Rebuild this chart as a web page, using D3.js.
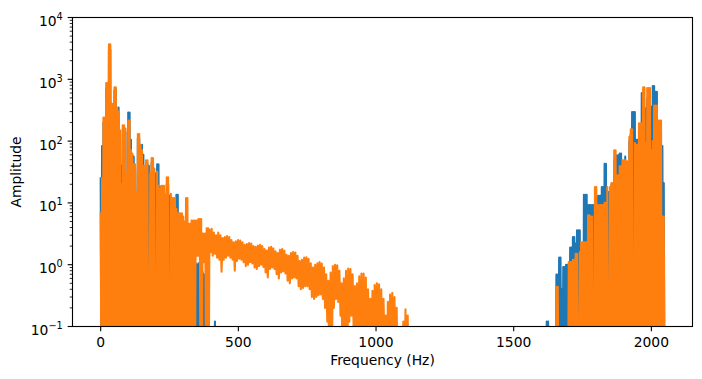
<!DOCTYPE html>
<html><head><meta charset="utf-8">
<script src="https://cdn.jsdelivr.net/npm/d3@7"></script>
<style>
body{margin:0;background:#fff}
svg{display:block}
text{font-family:"DejaVu Sans",sans-serif;fill:#000}
</style>
</head><body>
<svg id="chart" width="702" height="379"></svg>
<script>
// ---------------- data ----------------
const X_TICKS = [0, 500, 1000, 1500, 2000];
const Y_EXPONENTS = [-1, 0, 1, 2, 3, 4];
const X_LABEL = "Frequency (Hz)";
const Y_LABEL = "Amplitude";
const BELOW = 0.01; // value under the axis floor (drawn off-chart)

// Each spectrum piece: start frequency, bin step, peak values (hi) and trough values (lo)
// blue series
const blueLowStart = 0, blueLowStep = 5;
const blueLowHi = [26,83,200,230,700,800,3000,3000,350,380,
  650,700,330,350,140,40,150,160,140,25,
  290,290,105,59,56,35,12,110,110,75,
  87,60,35,40,42,40,25,45,45,30,
  30,42,42,18,18,15,15,11,20,20,
  13,11,10,9,10,13.5,13.5,5,4,3,
  2,0.11,2,1.5,1.2,1,0.8,0.6,0.9,1.05,
  1.0,1.05,0.5,0.4,0.76,0.7,0.3,0.05,0.05,0.05,
  0.05,0.05,0.05,0.12,0.05];
const blueHighStart = 1615, blueHighStep = 5;
const blueHighHi = [0.05,0.12,0.12,0.05,0.05,0.05,0.05,
  0.05,0.69,0.69,1.3,1.3,0.4,0.92,0.92,1.0,1.0,
  0.5,1.9,1.9,2.8,2.8,2.2,3.6,3.6,3.6,1.5,
  1.5,13.5,13.5,13.5,9.2,9.2,9.2,9.2,9.2,8,
  8,13,13,13,18,18,43,43,15,15,
  15,20,20,50,50,59,59,63,63,40,
  40,56,40,40,100,130,295,295,295,105,
  105,150,150,600,600,340,340,490,490,360,
  360,780,780,630,630,180,180,150,83,21];

// orange series
const orangeLowStart = 0, orangeLowStep = 5;
const orangeLowHi = [7,25,240,240,870,870,3700,3700,400,400,
  740,740,350,300,150,20,180,180,160,30,
  215,215,72,63,42,42,15,130,130,87,
  72,40,40,49,49,0.01,30,53,53,36,
  0.01,32,19,17,19,19,19,13.5,26,26,
  0.01,14,12,12,12,8,6.8,6.8,6.8,6.8,
  6,5,12,12,4.6,4.6,5.2,5.2,5.2,5.2,
  5.2,5.5,5.5,5.5,3.2,3.2,3.2,3.9,3.9];
const orangeLowLo = [0.01,0.01,0.01,0.01,0.01,0.01,0.01,0.01,0.01,0.01,
  0.01,0.01,0.01,0.01,0.01,0.01,0.01,0.01,0.01,0.01,
  0.01,0.01,0.01,0.01,0.01,0.01,0.01,0.01,0.01,0.01,
  0.01,0.01,0.01,0.01,0.01,0.01,0.01,0.01,0.01,0.01,
  0.01,0.01,0.01,0.01,0.01,0.01,0.01,0.01,0.01,0.01,
  0.01,0.01,0.01,0.01,0.01,0.01,0.01,0.01,0.01,0.01,
  0.01,0.01,0.01,0.01,0.01,0.01,0.01,0.01,0.01,1.4,
  1.4,1.4,0.01,0.01,1.1,1.1,0.01,0.01,0.01];
const orangeMidStart = 395, orangeMidStep = 8;
const orangeMidHi = [3.7,3.8,3.3,3.0,3.3,3.0,2.7,2.8,2.9,2.8,
  2.5,2.3,2.4,2.5,2.45,2.3,2.1,2.15,2.25,2.2,
  2.0,1.95,2.05,2.1,2.0,1.8,1.7,1.9,1.95,1.85,
  1.65,1.55,1.75,1.8,1.7,1.45,1.4,1.55,1.6,1.57,
  1.4,1.15,1.2,1.3,1.32,1.25,1.05,0.9,1.0,1.05,
  1.1,1.04,0.9,0.7,0.55,0.75,0.95,1.0,0.98,0.8,
  0.5,0.6,0.8,0.87,0.85,0.7,0.45,0.5,0.65,0.72,
  0.72,0.62,0.4,0.28,0.38,0.47,0.5,0.48,0.4,0.28,
  0.15,0.25,0.33,0.35,0.3,0.2,0.08,0.05,0.12,0.19,
  0.15,0.05];
const orangeMidLo = [1.6,1.4,1.5,1.3,1.2,0.77,1.2,1.3,1.4,1.3,
  1.2,0.8,1.15,1.25,1.2,1.1,0.95,1.0,1.1,1.05,
  0.9,0.85,0.95,1.0,0.92,0.75,0.62,0.85,0.9,0.85,
  0.7,0.6,0.75,0.78,0.72,0.55,0.5,0.6,0.62,0.6,
  0.45,0.4,0.42,0.45,0.45,0.4,0.3,0.28,0.3,0.32,
  0.33,0.28,0.2,0.12,0.01,0.01,0.2,0.28,0.25,0.15,
  0.01,0.01,0.01,0.12,0.15,0.08,0.01,0.01,0.01,0.01,
  0.01,0.01,0.05,0.01,0.01,0.01,0.01,0.01,0.01,0.05,
  0.01,0.01,0.01,0.01,0.01,0.01,0.01,0.01,0.01,0.01,
  0.01,0.01];
const orangeHighStart = 1650, orangeHighStep = 5;
const orangeHighHi = [0.05,0.44,0.44,0.05,0.05,0.05,0.05,0.05,0.05,0.05,
  1.1,1.1,1.1,1.2,1.2,1.5,1.5,0.01,1.6,2.3,
  2.3,2.3,2.3,2.3,6.3,6.3,6,6,0.01,18,
  18,9.2,9.2,9.2,9.2,9.2,10,10,18,0.01,
  18,21,21,71,71,28,28,39,39,49,
  49,49,47,47,117,155,155,0.01,93,87,
  87,195,195,195,740,740,93,720,720,720,
  71,100,375,375,375,215,215,215,6,6];

// ---------------- chart ----------------
const M_LEFT = 72.5, M_RIGHT = 692.5, M_TOP = 17.5, M_BOTTOM = 326.5;
const PT = 100 / 72;
const COLORS = {blue: "#1f77b4", orange: "#ff7f0e"};

const xScale = d3.scaleLinear().domain([-102.35, 2149.35]).range([M_LEFT, M_RIGHT]);
const yScale = d3.scaleLog().domain([0.1, 1e4]).range([M_BOTTOM, M_TOP]);

const svg = d3.select("#chart");

svg.append("defs").append("clipPath").attr("id", "plotclip")
  .append("rect").attr("x", M_LEFT).attr("y", M_TOP)
  .attr("width", M_RIGHT - M_LEFT).attr("height", M_BOTTOM - M_TOP);

function zigzag(start, step, hi, lo) {
  const pts = [];
  hi.forEach((v, i) => {
    const f = start + i * step;
    pts.push([f, v]);
    pts.push([f + step / 2, Array.isArray(lo) ? lo[i] : lo]);
  });
  return pts;
}

const blueData = [
  ...zigzag(blueLowStart, blueLowStep, blueLowHi, BELOW),
  ...zigzag(blueHighStart, blueHighStep, blueHighHi, BELOW)
];
const orangeData = [
  ...zigzag(orangeLowStart, orangeLowStep, orangeLowHi, orangeLowLo),
  ...zigzag(orangeMidStart, orangeMidStep, orangeMidHi, orangeMidLo),
  ...zigzag(orangeHighStart, orangeHighStep, orangeHighHi, BELOW)
];

const line = d3.line()
  .x(d => xScale(d[0]))
  .y(d => yScale(Math.max(d[1], 1e-3)));

const g = svg.append("g").attr("clip-path", "url(#plotclip)");
[["blue", blueData], ["orange", orangeData]].forEach(([name, data]) => {
  g.append("path")
    .attr("d", line(data))
    .attr("fill", "none")
    .attr("stroke", COLORS[name])
    .attr("stroke-width", 1.5 * PT)
    .attr("stroke-linejoin", "round")
    .attr("stroke-linecap", "butt");
});

// spines
svg.append("rect").attr("x", M_LEFT).attr("y", M_TOP)
  .attr("width", M_RIGHT - M_LEFT).attr("height", M_BOTTOM - M_TOP)
  .attr("fill", "none").attr("stroke", "#000").attr("stroke-width", 0.8 * PT);

const FS = 10 * PT;
const majorLen = 3.5 * PT, minorLen = 2 * PT, pad = 3.5 * PT;

// x ticks
X_TICKS.forEach(t => {
  const px = xScale(t);
  svg.append("line").attr("x1", px).attr("x2", px)
    .attr("y1", M_BOTTOM).attr("y2", M_BOTTOM + majorLen)
    .attr("stroke", "#000").attr("stroke-width", 0.8 * PT);
  svg.append("text").attr("x", px).attr("y", M_BOTTOM + majorLen + pad + FS * 0.76)
    .attr("text-anchor", "middle").attr("font-size", FS).text(d3.format("d")(t));
});

// y ticks (major + minor)
Y_EXPONENTS.forEach(e => {
  const py = yScale(Math.pow(10, e));
  svg.append("line").attr("x1", M_LEFT - majorLen).attr("x2", M_LEFT)
    .attr("y1", py).attr("y2", py)
    .attr("stroke", "#000").attr("stroke-width", 0.8 * PT);
  const txt = svg.append("text").attr("x", M_LEFT - majorLen - pad)
    .attr("y", py + 8.5).attr("text-anchor", "end").attr("font-size", FS);
  txt.append("tspan").text("10");
  txt.append("tspan").attr("dy", -6).attr("font-size", FS * 0.7)
    .text(e < 0 ? "\u2212" + Math.abs(e) : String(e));
  if (e < 4) {
    for (let m = 2; m <= 9; m++) {
      const my = yScale(m * Math.pow(10, e));
      svg.append("line").attr("x1", M_LEFT - minorLen).attr("x2", M_LEFT)
        .attr("y1", my).attr("y2", my)
        .attr("stroke", "#000").attr("stroke-width", 0.6 * PT);
    }
  }
});

// axis labels
svg.append("text").attr("x", (M_LEFT + M_RIGHT) / 2).attr("y", 364.5)
  .attr("text-anchor", "middle").attr("font-size", FS).text(X_LABEL);
svg.append("text").attr("transform", `translate(20.5,${(M_TOP + M_BOTTOM) / 2}) rotate(-90)`)
  .attr("text-anchor", "middle").attr("font-size", FS).text(Y_LABEL);
</script>
</body></html>
